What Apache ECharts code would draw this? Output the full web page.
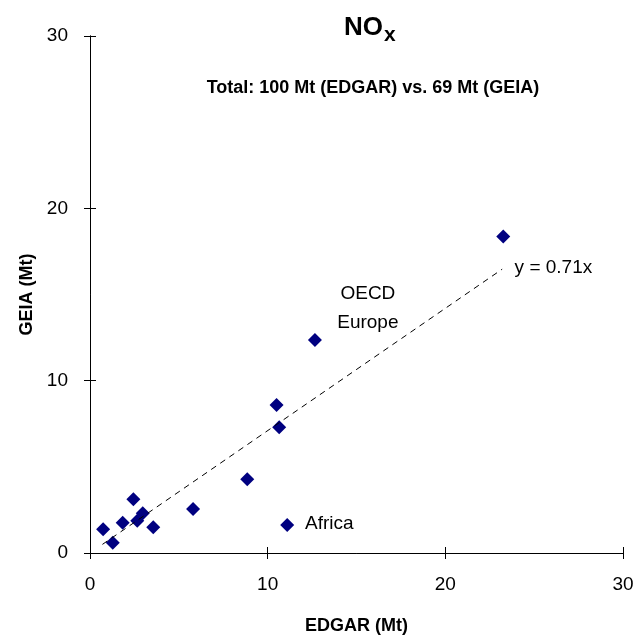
<!DOCTYPE html>
<html>
<head>
<meta charset="utf-8">
<script src="https://cdn.jsdelivr.net/npm/echarts@6/dist/echarts.min.js"></script>
<style>
html, body { margin: 0; padding: 0; background: #fff; }
#main { width: 634px; height: 639px; }
</style>
</head>
<body>
<div id="main"></div>
<script>
// EDGAR vs GEIA regional NOx (Mt)
var edgar = [0.74, 1.28, 1.84, 2.44, 2.66, 2.97, 3.56, 5.8, 8.85, 10.5, 10.65, 11.1, 12.66, 23.26];
var geia  = [1.38, 0.6, 1.76, 3.12, 1.87, 2.3, 1.49, 2.55, 4.28, 8.59, 7.3, 1.63, 12.36, 18.36];
var trendX = [0.7, 23.2];
var trendY = [0.5, 16.47];
var axisTicks = [0, 10, 20, 30];
var notes = [
  { text: 'OECD\nEurope', x: 15.64, y: 14.23, align: 'center' },
  { text: 'Africa', x: 12.1, y: 1.68, align: 'left' },
  { text: 'y = 0.71x', x: 23.9, y: 16.54, align: 'left' }
];

var font = 'Liberation Sans, Arial, sans-serif';
var myChart = echarts.init(document.getElementById('main'));

var pts = [];
for (var i = 0; i < edgar.length; i++) pts.push([edgar[i], geia[i]]);
var trend = [];
for (var j = 0; j < trendX.length; j++) trend.push([trendX[j], trendY[j]]);

var W = 634, H = 639;
var gridBox = { left: 90, right: 11, top: 36, bottom: 86, outerBoundsMode: 'none' };

function axisBase(name, gap) {
  return {
    type: 'value', min: axisTicks[0], max: axisTicks[axisTicks.length - 1], interval: 10,
    name: name, nameLocation: 'middle', nameGap: gap,
    nameTextStyle: { fontWeight: 'bold', fontSize: 18, color: '#000', fontFamily: font },
    splitLine: { show: false },
    axisLine: { show: true, onZero: false, lineStyle: { color: '#000', width: 1 } },
    axisTick: { show: true, length: 6, lineStyle: { color: '#000' } },
    axisLabel: { color: '#000', fontSize: 19, fontFamily: font, margin: 22 }
  };
}
// inner half of the crossing tick marks: an opposite-side axis pulled onto the main axis line
function innerTicks(pos, off) {
  return {
    type: 'value', position: pos, offset: off,
    min: axisTicks[0], max: axisTicks[axisTicks.length - 1], interval: 10,
    splitLine: { show: false },
    axisLine: { show: true, onZero: false, lineStyle: { color: '#000', width: 1 } },
    axisTick: { show: true, length: 6, lineStyle: { color: '#000' } },
    axisLabel: { show: false }
  };
}

var option = {
  animation: false,
  backgroundColor: '#fff',
  grid: gridBox,
  xAxis: [axisBase('EDGAR (Mt)', 64),
          innerTicks('top', -(H - gridBox.top - gridBox.bottom))],
  yAxis: [axisBase('GEIA (Mt)', 52),
          innerTicks('right', -(W - gridBox.left - gridBox.right))],
  graphic: [
    {
      type: 'text', left: 344, top: 15,
      style: {
        text: '{a|NO}{b|x}',
        rich: {
          a: { fontSize: 26, fontWeight: 'bold', fontFamily: font, fill: '#000' },
          b: { fontSize: 21, fontWeight: 'bold', fontFamily: font, fill: '#000', padding: [15, 0, 0, 1] }
        }
      }
    },
    {
      type: 'text', x: 373, y: 88,
      style: {
        text: 'Total: 100 Mt (EDGAR) vs. 69 Mt (GEIA)',
        fontSize: 18, fontWeight: 'bold', fontFamily: font, fill: '#000',
        align: 'center', verticalAlign: 'middle'
      }
    }
  ],
  series: [
    {
      type: 'line', data: trend, symbol: 'none', silent: true,
      lineStyle: { color: '#000', width: 1, type: [6, 5] }
    },
    {
      type: 'scatter', data: pts, symbol: 'diamond', symbolSize: 14,
      itemStyle: { color: '#000080', opacity: 1 }
    },
    {
      type: 'scatter', symbolSize: 0, silent: true,
      itemStyle: { opacity: 1 },
      data: notes.map(function (n) {
        return {
          value: [n.x, n.y],
          label: {
            show: true, position: 'inside', formatter: n.text,
            align: n.align, verticalAlign: 'middle',
            fontSize: 19, lineHeight: 29, color: '#000', fontFamily: font
          }
        };
      })
    }
  ]
};

myChart.setOption(option);
</script>
</body>
</html>
